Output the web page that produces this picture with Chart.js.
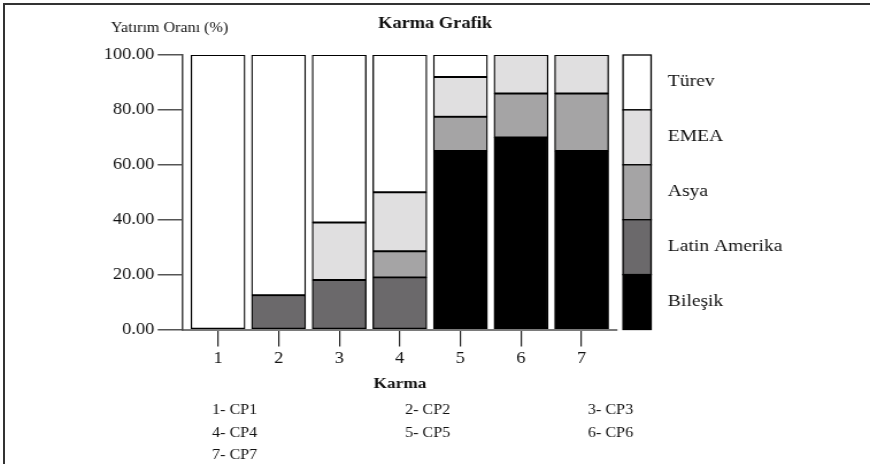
<!DOCTYPE html>
<html>
<head>
<meta charset="utf-8">
<script src="https://cdn.jsdelivr.net/npm/chart.js@4.4.1/dist/chart.umd.min.js"></script>
<style>
  html, body { margin: 0; padding: 0; background: #fff; }
  body { width: 870px; height: 464px; overflow: hidden; position: relative; }
  /* the reference is slightly stretched sideways, so draw narrower and scale */
  #wrap { position: absolute; left: 0; top: 0; width: 757px; height: 464px; transform: scaleX(1.1493); transform-origin: 0 0; }
  #frame { position: absolute; left: 3px; top: 3px; right: 0; bottom: 0; border-top: 2px solid #333; border-left: 2px solid #333; }
</style>
</head>
<body>
<div id="wrap"><canvas id="mixChart"></canvas></div>
<div id="frame"></div>
<script>
// categories (mixes) and what each number stands for
const mixLabels = ["1", "2", "3", "4", "5", "6", "7"];
const mixNames = ["CP1", "CP2", "CP3", "CP4", "CP5", "CP6", "CP7"];

// investment share per mix (%), bottom segment first
const bilesik = [0, 0, 0, 0, 65, 70, 65];
const latinAmerika = [0, 12.5, 18, 19, 0, 0, 0];
const asya = [0, 0, 0, 9.5, 12.5, 16, 21];
const emea = [0, 0, 21, 21.5, 14.5, 14, 14];
const turev = [100, 87.5, 61, 50, 8, 0, 0];

const seriesNames = ["Bileşik", "Latin Amerika", "Asya", "EMEA", "Türev"];
const seriesValues = [bilesik, latinAmerika, asya, emea, turev];
const seriesColors = ["#000000", "#6b696b", "#a5a4a5", "#e0dfe0", "#ffffff"];

const serif = "'Liberation Serif', 'Times New Roman', serif";
Chart.defaults.font.family = serif;
Chart.defaults.color = "#111";

// stacked colour strip on the right, top series first
const stripLegend = {
    id: "stripLegend",
    afterDraw(chart) {
        const { ctx, chartArea } = chart;
        const sets = chart.data.datasets.slice().reverse();
        const h = (chartArea.bottom - chartArea.top) / sets.length;
        const x = chartArea.right + 5.3;
        ctx.save();
        ctx.lineWidth = 1.3;
        ctx.strokeStyle = "#000";
        ctx.font = "17px " + serif;
        ctx.textAlign = "left";
        ctx.textBaseline = "middle";
        sets.forEach((ds, i) => {
            const y = chartArea.top + i * h;
            ctx.fillStyle = ds.backgroundColor;
            ctx.fillRect(x, y, 24.4, h);
            ctx.strokeRect(x, y, 24.4, h);
            ctx.fillStyle = "#111";
            ctx.fillText(ds.label, x + 39, y + h / 2 - 1);
        });
        ctx.restore();
    }
};

// y caption at top left and the mix key under the axis title
const extraText = {
    id: "extraText",
    afterDraw(chart) {
        const { ctx } = chart;
        ctx.save();
        ctx.fillStyle = "#111";
        ctx.textAlign = "left";
        ctx.textBaseline = "middle";
        ctx.font = "14px " + serif;
        ctx.fillText("Yatırım Oranı (%)", 96.6, 28);
        const colX = [184.5, 352.4, 511.6];
        const rowY = [410, 433, 455];
        mixLabels.forEach((lab, i) => {
            ctx.fillText(lab + "- " + mixNames[i], colX[i % 3], rowY[Math.floor(i / 3)]);
        });
        ctx.restore();
    }
};

const datasets = seriesNames.map((name, k) => ({
    label: name,
    data: seriesValues[k].map((v, i) => ({ x: i + 1, y: v })),
    backgroundColor: seriesColors[k],
    borderColor: "#000",
    borderWidth: 1.3,
    borderSkipped: false,
    barThickness: 47,
    grouped: false
}));

new Chart(document.getElementById("mixChart"), {
    type: "bar",
    data: { datasets },
    options: {
        responsive: true,
        maintainAspectRatio: false,
        animation: false,
        layout: { padding: 0 },
        plugins: {
            legend: { display: false },
            tooltip: { enabled: false },
            title: {
                display: true,
                text: "Karma Grafik",
                font: { size: 16, weight: "bold" },
                color: "#111",
                padding: { top: 14.4, bottom: 21.4 }
            }
        },
        scales: {
            x: {
                type: "linear",
                offset: false,
                min: 0.422,
                max: 7.583,
                afterBuildTicks: s => { s.ticks = mixLabels.map((_, i) => ({ value: i + 1 })); },
                afterFit: s => { s.height = 134.5; },
                ticks: {
                    callback: v => mixLabels[v - 1],
                    font: { size: 16 },
                    color: "#111",
                    padding: 3,
                    maxRotation: 0
                },
                grid: { offset: false, drawOnChartArea: false, tickLength: 17, color: "#222", lineWidth: 1.2 },
                border: { color: "#7a7a7a", width: 2 },
                title: {
                    display: true,
                    text: "Karma",
                    font: { size: 15, weight: "bold" },
                    color: "#111",
                    padding: { top: 4, bottom: 71 }
                }
            },
            y: {
                stacked: true,
                min: 0,
                max: 100,
                afterFit: s => { s.width = 159.2; },
                ticks: {
                    stepSize: 20,
                    callback: v => v.toFixed(2),
                    font: { size: 16 },
                    color: "#111",
                    padding: 3
                },
                grid: { drawOnChartArea: false, tickLength: 22, color: "#555", lineWidth: 1.5 },
                border: { color: "#444", width: 1.5 }
            },
            // empty right-hand box that keeps room for the colour strip
            side: {
                type: "linear",
                position: "right",
                afterFit: s => { s.width = 220.2; },
                ticks: { display: false },
                grid: { display: false },
                border: { display: false }
            }
        }
    },
    plugins: [stripLegend, extraText]
});
</script>
</body>
</html>
